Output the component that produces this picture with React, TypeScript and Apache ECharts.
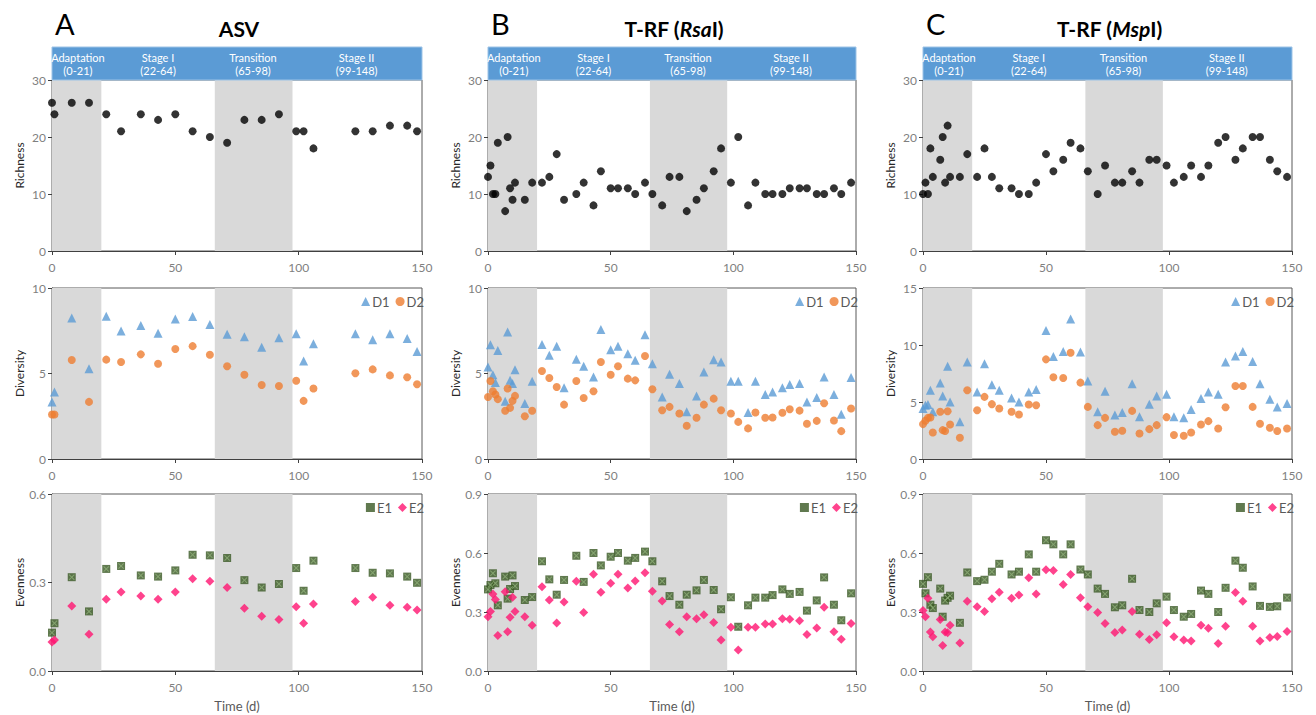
import React, { useEffect, useRef } from 'react';
import * as echarts from 'echarts';

// ---------- data ----------
const daysA = [0, 1, 8, 15, 22, 28, 36, 43, 50, 57, 64, 71, 78, 85, 92, 99, 102, 106, 123, 130, 137, 144, 148];
const daysBC = [0, 1, 2, 3, 4, 7, 8, 9, 10, 11, 15, 18, 22, 25, 28, 31, 36, 39, 43, 46, 50, 53, 57, 60, 64, 67, 71, 74, 78, 81, 85, 88, 92, 95, 99, 102, 106, 109, 113, 116, 120, 123, 127, 130, 134, 137, 141, 144, 148];

const richA = [26, 24, 26, 26, 24, 21, 24, 23, 24, 21, 20, 19, 23, 23, 24, 21, 21, 18, 21, 21, 22, 22, 21];
const d1A = [3.34, 3.92, 8.25, 5.28, 8.35, 7.48, 7.8, 7.36, 8.19, 8.33, 7.86, 7.3, 7.15, 6.54, 7.09, 7.32, 5.73, 6.74, 7.32, 6.97, 7.32, 7.05, 6.29];
const d2A = [2.6, 2.6, 5.79, 3.34, 5.81, 5.67, 6.12, 5.57, 6.43, 6.6, 6.1, 5.42, 4.93, 4.33, 4.27, 4.58, 3.4, 4.12, 5.01, 5.24, 4.89, 4.78, 4.37];
const e1A = [0.13, 0.162, 0.318, 0.202, 0.346, 0.356, 0.324, 0.32, 0.341, 0.394, 0.392, 0.383, 0.308, 0.283, 0.295, 0.349, 0.272, 0.374, 0.349, 0.333, 0.331, 0.32, 0.299];
const e2A = [0.098, 0.105, 0.22, 0.125, 0.243, 0.268, 0.254, 0.243, 0.268, 0.313, 0.304, 0.283, 0.213, 0.186, 0.175, 0.218, 0.162, 0.227, 0.236, 0.25, 0.223, 0.216, 0.207];

const richB = [13, 15, 10, 10, 19, 7, 20, 11, 9, 12, 9, 12, 12, 13, 17, 9, 10, 12, 8, 14, 11, 11, 11, 10, 12, 10, 8, 13, 13, 7, 9, 11, 14, 18, 12, 20, 8, 12, 10, 10, 10, 11, 11, 11, 10, 10, 11, 10, 12];
const d1B = [5.38, 6.68, 4.93, 4.47, 6.35, 3.38, 7.42, 4.6, 4.41, 5.22, 3.24, 4.54, 6.7, 6.06, 6.6, 4.16, 5.84, 5.42, 4.8, 7.57, 6.39, 6.6, 6.16, 5.77, 7.26, 5.57, 3.63, 4.95, 4.41, 2.76, 3.69, 5.09, 5.81, 5.67, 4.54, 4.54, 2.72, 4.54, 3.77, 3.92, 4.16, 4.35, 4.41, 3.34, 3.59, 4.8, 3.77, 2.62, 4.76];
const d2B = [3.63, 4.56, 3.96, 3.77, 3.5, 2.82, 4.12, 2.99, 3.4, 3.69, 2.5, 2.82, 5.15, 4.74, 4.21, 3.18, 4.56, 3.57, 3.96, 5.67, 4.93, 5.42, 4.7, 4.6, 6.02, 4.08, 2.85, 3.05, 2.66, 1.94, 2.41, 3.18, 3.53, 2.85, 2.66, 2.17, 1.79, 2.72, 2.41, 2.43, 2.7, 2.91, 2.83, 2.06, 2.23, 3.26, 2.25, 1.63, 2.95];
const e1B = [0.415, 0.437, 0.497, 0.446, 0.334, 0.48, 0.368, 0.417, 0.486, 0.432, 0.361, 0.376, 0.558, 0.466, 0.388, 0.463, 0.586, 0.453, 0.6, 0.537, 0.581, 0.6, 0.561, 0.575, 0.607, 0.558, 0.456, 0.381, 0.337, 0.388, 0.41, 0.463, 0.412, 0.314, 0.375, 0.225, 0.334, 0.373, 0.373, 0.386, 0.415, 0.392, 0.402, 0.307, 0.359, 0.476, 0.337, 0.258, 0.395];
const e2B = [0.276, 0.302, 0.392, 0.364, 0.181, 0.403, 0.2, 0.273, 0.375, 0.303, 0.276, 0.232, 0.429, 0.361, 0.244, 0.351, 0.456, 0.297, 0.492, 0.4, 0.446, 0.492, 0.422, 0.458, 0.5, 0.405, 0.356, 0.236, 0.2, 0.276, 0.266, 0.286, 0.247, 0.158, 0.222, 0.107, 0.222, 0.222, 0.239, 0.239, 0.266, 0.263, 0.256, 0.185, 0.219, 0.324, 0.2, 0.161, 0.242];

const richC = [10, 12, 10, 18, 13, 16, 20, 12, 22, 13, 13, 17, 13, 18, 13, 11, 11, 10, 10, 12, 17, 14, 16, 19, 18, 14, 10, 15, 12, 12, 14, 12, 16, 16, 15, 12, 13, 15, 13, 15, 19, 20, 16, 18, 20, 20, 16, 14, 13];
const d1C = [4.43, 4.72, 4.78, 6.03, 4.14, 6.67, 5.53, null, 8.13, 5.01, 3.26, 8.51, 5.88, 8.36, 6.52, 6.03, 5.36, 5.01, 5.88, 6.09, 11.27, 9.0, 9.44, 12.29, 9.38, 6.85, 4.14, 5.94, 3.85, 4.08, 6.61, 3.7, 4.81, 5.53, 5.68, 3.7, 3.61, 4.34, 5.3, 5.88, 5.68, 8.51, 9.03, 9.44, 8.56, 6.61, 5.24, 4.57, 4.86];
const d2C = [3.06, 3.35, 3.61, 3.64, 2.33, 4.14, 2.53, 2.45, 4.19, 3.03, 1.86, 6.03, 4.28, 5.45, 4.81, 4.43, 4.14, 3.9, 4.78, 4.72, 8.74, 7.17, 7.11, 9.32, 6.7, 4.57, 2.97, 3.61, 2.39, 2.48, 4.22, 2.24, 2.62, 2.97, 3.67, 2.1, 2.04, 2.33, 3.03, 3.32, 2.68, 4.54, 6.41, 6.41, 4.57, 3.09, 2.74, 2.45, 2.68];
const e1C = [0.443, 0.395, 0.477, 0.337, 0.32, 0.419, 0.276, 0.358, 0.372, 0.383, 0.245, 0.501, 0.457, 0.464, 0.505, 0.545, 0.491, 0.505, 0.593, 0.505, 0.665, 0.644, 0.593, 0.644, 0.516, 0.491, 0.419, 0.392, 0.324, 0.334, 0.469, 0.31, 0.3, 0.344, 0.378, 0.31, 0.276, 0.29, 0.409, 0.392, 0.3, 0.423, 0.561, 0.525, 0.43, 0.331, 0.326, 0.329, 0.373];
const e2C = [0.307, 0.276, 0.37, 0.198, 0.174, 0.262, 0.13, 0.198, 0.194, 0.232, 0.143, 0.355, 0.327, 0.303, 0.368, 0.401, 0.37, 0.387, 0.474, 0.392, 0.515, 0.511, 0.44, 0.491, 0.372, 0.327, 0.297, 0.242, 0.196, 0.208, 0.303, 0.187, 0.16, 0.184, 0.245, 0.174, 0.157, 0.153, 0.232, 0.218, 0.14, 0.228, 0.399, 0.355, 0.228, 0.153, 0.17, 0.176, 0.201];

const stageNames = ['Adaptation', 'Stage I', 'Transition', 'Stage II'];
const stageRanges = [[0, 21], [22, 64], [65, 98], [99, 148]];
const shadedRanges = [[0, 20], [66, 97.5]];

const panelLetters = ['A', 'B', 'C'];
const panelTitles = ['{b|ASV}', '{b|T-RF (}{i|Rsa}{b|I)}', '{b|T-RF (}{i|Msp}{b|I)}'];
const rowNames = ['Richness', 'Diversity', 'Evenness'];
const xTicks = [0, 50, 100, 150];
const yMax = [[30, 30, 30], [10, 10, 15], [0.6, 0.9, 0.9]];
const yInterval = [10, 5, 0.3];

// ---------- layout / style ----------
const colLeft = [52, 488, 923];
const colWidth = [370, 368, 369];
const rowTop = [80, 288, 494];
const rowHeight = [171, 171, 177];
const FONT = 'Lato, "Open Sans", sans-serif';
const X_PATH = 'path://M0,1.2L1.2,0L5,3.8L8.8,0L10,1.2L6.2,5L10,8.8L8.8,10L5,6.2L1.2,10L0,8.8L3.8,5Z';

const COLORS = { rich: '#000000', D1: '#5B9BD5', D2: '#ED7D31', E1: '#385723', E1x: '#8FAF78', E2: '#FF1470' };

function pairs(xs: number[], ys: (number | null)[]) {
  const out: number[][] = [];
  xs.forEach((x, i) => {
    const y = ys[i];
    if (y !== null && y !== undefined) out.push([x, y]);
  });
  return out;
}

export default function App() {
  const ref = useRef<HTMLDivElement>(null);

  useEffect(() => {
    if (!ref.current) return;
    const chart = echarts.init(ref.current, undefined, { renderer: 'svg' });

    const colDays = [daysA, daysBC, daysBC];
    const colData = [
      [richA, d1A, d2A, e1A, e2A],
      [richB, d1B, d2B, e1B, e2B],
      [richC, d1C, d2C, e1C, e2C],
    ];

    const grids: any[] = [];
    const xAxes: any[] = [];
    const yAxes: any[] = [];
    const series: any[] = [];
    const legends: any[] = [];

    const markArea = {
      silent: true,
      itemStyle: { color: '#D9D9D9' },
      data: shadedRanges.map((r) => [{ xAxis: r[0] }, { xAxis: r[1] }]),
    };

    for (let row = 0; row < 3; row++) {
      for (let col = 0; col < 3; col++) {
        const idx = row * 3 + col;
        grids.push({
          left: colLeft[col],
          top: rowTop[row],
          width: colWidth[col],
          height: rowHeight[row],
          show: true,
          borderColor: '#595959',
          borderWidth: 1,
          backgroundColor: 'transparent',
        });
        xAxes.push({
          type: 'value',
          gridIndex: idx,
          min: xTicks[0],
          max: xTicks[xTicks.length - 1],
          interval: 50,
          axisLine: { show: true, lineStyle: { color: '#404040' } },
          axisTick: { show: true, length: 4, lineStyle: { color: '#404040' } },
          axisLabel: { color: '#7F7F7F', fontSize: 12, fontFamily: FONT, margin: 10 },
          splitLine: { show: false },
          name: row === 2 ? 'Time (d)' : '',
          nameLocation: 'middle',
          nameGap: 28,
          nameTextStyle: { color: '#595959', fontSize: 13, fontFamily: FONT },
        });
        yAxes.push({
          type: 'value',
          gridIndex: idx,
          min: 0,
          max: yMax[row][col],
          interval: yInterval[row],
          axisLine: { show: true, lineStyle: { color: '#404040' } },
          axisTick: { show: true, length: 4, lineStyle: { color: '#404040' } },
          axisLabel: {
            color: '#7F7F7F',
            fontSize: 12,
            fontFamily: FONT,
            margin: 6,
            formatter: row === 2 ? (v: number) => v.toFixed(1) : undefined,
          },
          splitLine: { show: false },
          name: rowNames[row],
          nameLocation: 'middle',
          nameGap: 27,
          nameTextStyle: { color: '#262626', fontSize: 12, fontFamily: FONT },
        });

        const days = colDays[col];
        const d = colData[col];
        if (row === 0) {
          series.push({
            type: 'scatter',
            name: 'Richness',
            xAxisIndex: idx,
            yAxisIndex: idx,
            symbol: 'circle',
            symbolSize: 8,
            itemStyle: { color: COLORS.rich },
            data: pairs(days, d[0]),
            markArea,
          });
        } else if (row === 1) {
          series.push({
            type: 'scatter', name: 'D1', xAxisIndex: idx, yAxisIndex: idx,
            symbol: 'triangle', symbolSize: 9, itemStyle: { color: COLORS.D1 },
            data: pairs(days, d[1]), markArea,
          });
          series.push({
            type: 'scatter', name: 'D2', xAxisIndex: idx, yAxisIndex: idx,
            symbol: 'circle', symbolSize: 8, itemStyle: { color: COLORS.D2 },
            data: pairs(days, d[2]),
          });
        } else {
          series.push({
            type: 'scatter', name: 'E1', xAxisIndex: idx, yAxisIndex: idx,
            symbol: 'rect', symbolSize: 8, itemStyle: { color: COLORS.E1 },
            data: pairs(days, d[3]), markArea,
          });
          series.push({
            type: 'scatter', name: 'E1 mark', xAxisIndex: idx, yAxisIndex: idx,
            symbol: X_PATH, symbolSize: 6, silent: true, itemStyle: { color: COLORS.E1x },
            data: pairs(days, d[3]),
          });
          series.push({
            type: 'scatter', name: 'E2', xAxisIndex: idx, yAxisIndex: idx,
            symbol: 'diamond', symbolSize: 9, itemStyle: { color: COLORS.E2 },
            data: pairs(days, d[4]),
          });
        }

        if (row > 0) {
          const names = row === 1 ? ['D1', 'D2'] : ['E1', 'E2'];
          const icons = row === 1 ? ['triangle', 'circle'] : ['rect', 'diamond'];
          legends.push({
            right: 1316 - (colLeft[col] + colWidth[col]) - 2,
            top: rowTop[row] + 7,
            orient: 'horizontal',
            itemWidth: 9,
            itemHeight: 9,
            itemGap: 6,
            padding: 0,
            selectedMode: false,
            textStyle: { color: '#595959', fontSize: 13, fontFamily: FONT, padding: [0, 0, 0, -3] },
            data: names.map((n, i) => ({ name: n, icon: icons[i] })),
          });
        }
      }
    }

    chart.setOption({
      animation: false,
      backgroundColor: '#ffffff',
      grid: grids,
      xAxis: xAxes,
      yAxis: yAxes,
      series,
      legend: legends,
    });

    // header bars and titles
    const graphics: any[] = [];
    for (let col = 0; col < 3; col++) {
      const left = colLeft[col];
      const right = colLeft[col] + colWidth[col];
      graphics.push({
        type: 'rect',
        silent: true,
        shape: { x: left, y: 47, width: right - left, height: 33 },
        style: { fill: '#5B9BD5', stroke: '#9DC3E6', lineWidth: 1 },
        z: 10,
      });
      stageNames.forEach((nm, i) => {
        const mid = (stageRanges[i][0] + stageRanges[i][1]) / 2;
        const px = chart.convertToPixel({ xAxisIndex: col }, mid) as number;
        graphics.push({
          type: 'text',
          silent: true,
          x: px,
          y: 63.5,
          z: 11,
          style: {
            text: nm + '\n(' + stageRanges[i][0] + '-' + stageRanges[i][1] + ')',
            fill: '#ffffff',
            font: '11px ' + FONT,
            align: 'center',
            verticalAlign: 'middle',
            lineHeight: 13,
          },
        });
      });
      graphics.push({
        type: 'text',
        silent: true,
        x: left + 3,
        y: 23,
        style: {
          text: panelLetters[col],
          fill: '#000000',
          font: '29px ' + FONT,
          align: 'left',
          verticalAlign: 'middle',
        },
      });
      graphics.push({
        type: 'text',
        silent: true,
        x: (left + right) / 2 + 2,
        y: 28,
        style: {
          text: panelTitles[col],
          fill: '#000000',
          align: 'center',
          verticalAlign: 'middle',
          rich: {
            b: { font: 'bold 21px ' + FONT, fill: '#000000' },
            i: { font: 'italic bold 21px ' + FONT, fill: '#000000' },
          },
        },
      });
    }
    chart.setOption({ graphic: graphics });

    return () => {
      chart.dispose();
    };
  }, []);

  return (
    <div
      ref={ref}
      style={{ position: 'fixed', left: 0, top: 0, width: 1316, height: 715, background: '#fff' }}
    />
  );
}
